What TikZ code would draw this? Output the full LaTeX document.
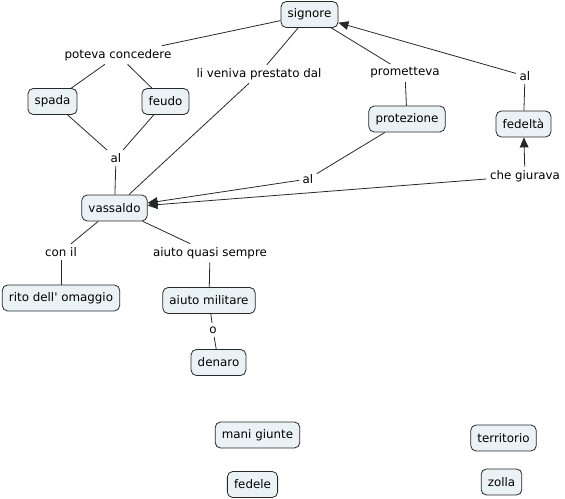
\documentclass[tikz,border=0pt]{standalone}
\usepackage{fontspec}
\newfontfamily\cmapfont{DejaVu Sans}
\usetikzlibrary{arrows.meta}
\definecolor{conceptfill}{RGB}{235,242,245}
\definecolor{linkgray}{RGB}{40,40,40}

\begin{document}
\begin{tikzpicture}[x=0.75pt, y=-0.75pt,
    concept/.style={draw=linkgray, fill=conceptfill, rounded corners=4pt, line width=0.6pt,
      font=\cmapfont\fontsize{8.9}{10}\selectfont, inner xsep=5pt, minimum height=19.5pt},
    linkphrase/.style={font=\cmapfont\fontsize{8.9}{10}\selectfont, inner sep=2.5pt},
    link/.style={draw=linkgray, line width=0.6pt},
    tip/.style={link, -{Triangle[length=7.5pt,width=6.5pt]}}]
      \useasboundingbox (0,0) rectangle (565,499);

      % Concetti
      \node[concept] (signore) at (309.5,14.5) {signore};
      \node[concept] (spada) at (52.5,101.5) {spada};
      \node[concept] (feudo) at (165.5,101.5) {feudo};
      \node[concept] (protezione) at (407,119) {protezione};
      \node[concept] (fedelta) at (523.5,124) {fedeltà};
      \node[concept] (vassaldo) at (114.5,208) {vassaldo};
      \node[concept] (rito) at (61,298) {rito dell' omaggio};
      \node[concept] (militare) at (209,300.5) {aiuto militare};
      \node[concept] (denaro) at (218.5,362.5) {denaro};
      \node[concept] (mani) at (257.5,435) {mani giunte};
      \node[concept] (territorio) at (503.5,438) {territorio};
      \node[concept] (fedele) at (252.5,484.5) {fedele};
      \node[concept] (zolla) at (501.5,482) {zolla};

      % Frasi di collegamento
      \node[linkphrase] (poteva) at (118,55) {poteva concedere};
      \node[linkphrase] (veniva) at (259,74) {li veniva prestato dal};
      \node[linkphrase] (prometteva) at (405,73) {prometteva};
      \node[linkphrase] (alfed) at (525,76) {al};
      \node[linkphrase] (alspada) at (116,158) {al};
      \node[linkphrase] (alprot) at (308,179) {al};
      \node[linkphrase] (giurava) at (525,176) {che giurava};
      \node[linkphrase] (conil) at (61,252) {con il};
      \node[linkphrase] (quasi) at (210,253) {aiuto quasi sempre};
      \node[linkphrase] (oppure) at (213,330) {o};

      % Collegamenti
      \draw[link] (signore) -- (poteva);
      \draw[link] (poteva) -- (spada);
      \draw[link] (poteva) -- (feudo);
      \draw[link] (spada) -- (alspada);
      \draw[link] (feudo) -- (alspada);
      \draw[link] (alspada) -- (vassaldo);
      \draw[link] (signore) -- (veniva);
      \draw[link] (veniva) -- (vassaldo);
      \draw[link] (signore) -- (prometteva);
      \draw[link] (prometteva) -- (protezione);
      \draw[link] (protezione) -- (alprot);
      \draw[tip] (alprot) -- (vassaldo);
      \draw[tip] (giurava) -- (vassaldo);
      \draw[tip] (giurava) -- (fedelta);
      \draw[link] (fedelta) -- (alfed);
      \draw[tip] (alfed) -- (signore);
      \draw[link] (vassaldo) -- (conil);
      \draw[link] (conil) -- (rito);
      \draw[link] (vassaldo) -- (quasi);
      \draw[link] (quasi) -- (militare);
      \draw[link] (militare) -- (oppure);
      \draw[link] (oppure) -- (denaro);
    \end{tikzpicture}
\end{document}
